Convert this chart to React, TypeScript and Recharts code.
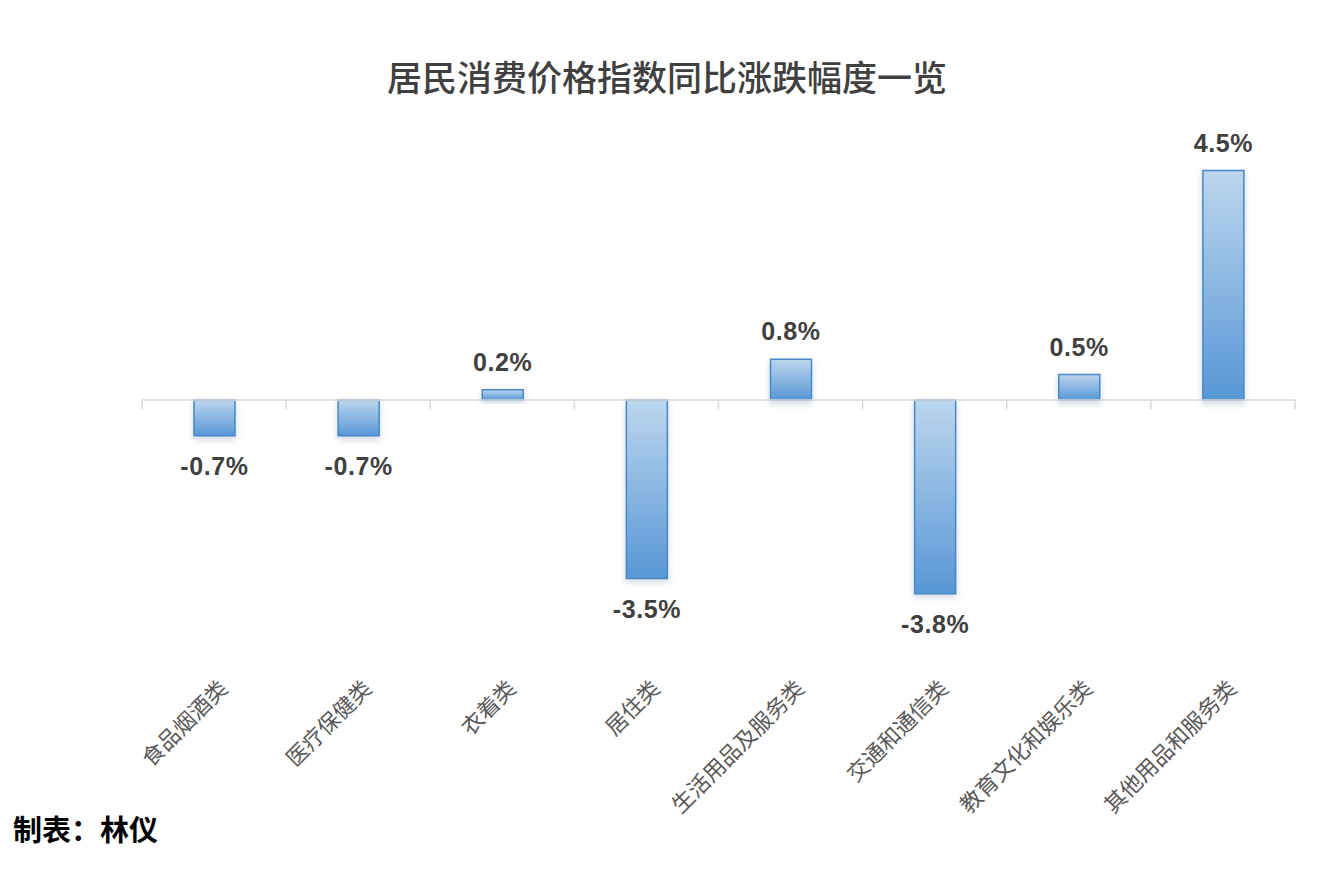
import { BarChart, Bar, XAxis, YAxis, ReferenceLine, LabelList } from 'recharts';

const categories = [
  '食品烟酒类',
  '医疗保健类',
  '衣着类',
  '居住类',
  '生活用品及服务类',
  '交通和通信类',
  '教育文化和娱乐类',
  '其他用品和服务类',
];

const changes = [-0.7, -0.7, 0.2, -3.5, 0.8, -3.8, 0.5, 4.5];

const yDomain = [-5, 5];

const data = categories.map((name, i) => ({ name, value: changes[i] }));

const WIDTH = 1334;
const HEIGHT = 872;
const XAXIS_H = 30;
const MARGIN = { top: 145, right: 39, bottom: 217 - XAXIS_H, left: 142 };
const PLOT_W = WIDTH - MARGIN.left - MARGIN.right;
const PLOT_H = HEIGHT - MARGIN.top - MARGIN.bottom - XAXIS_H;
const BAND = PLOT_W / categories.length;
const ZERO_Y = MARGIN.top + (PLOT_H * yDomain[1]) / (yDomain[1] - yDomain[0]);

const AXIS_COLOR = '#d9d9d9';

function CategoryTick(props: any) {
  const { x, index, payload } = props;
  const left = x - BAND / 2;
  const last = index === categories.length - 1;
  const ax = x + 15;
  const ay = 690;
  return (
    <g>
      <line x1={left} y1={ZERO_Y} x2={left} y2={ZERO_Y + 9} stroke={AXIS_COLOR} strokeWidth={1.5} />
      {last && (
        <line x1={x + BAND / 2} y1={ZERO_Y} x2={x + BAND / 2} y2={ZERO_Y + 9} stroke={AXIS_COLOR} strokeWidth={1.5} />
      )}
      <text
        x={ax}
        y={ay}
        transform={`rotate(-45, ${ax}, ${ay})`}
        textAnchor="end"
        fontSize={22}
        fill="#595959"
        fontFamily="'Noto Sans CJK SC', sans-serif"
      >
        {payload.value}
      </text>
    </g>
  );
}

function ValueLabel(props: any) {
  const { x, y, width, height, value } = props;
  const top = Math.min(y, y + height);
  const bottom = Math.max(y, y + height);
  const cx = x + width / 2;
  const ty = value >= 0 ? top - 19 : bottom + 39;
  return (
    <text
      x={cx}
      y={ty}
      textAnchor="middle"
      fontSize={25}
      fontWeight="bold"
      letterSpacing={0.6}
      fill="#404040"
      fontFamily="'Liberation Sans', Arial, sans-serif"
    >
      {`${Number(value).toFixed(1)}%`}
    </text>
  );
}

export default function App() {
  return (
    <div style={{ position: 'absolute', left: 0, top: 0, width: WIDTH, height: HEIGHT, background: '#fff' }}>
      <div
        style={{
          position: 'absolute',
          left: 0,
          top: 56,
          width: WIDTH,
          textAlign: 'center',
          fontFamily: "'Noto Sans CJK SC', sans-serif",
          fontSize: 35,
          lineHeight: '40px',
          fontWeight: 500,
          color: '#404040',
        }}
      >
        居民消费价格指数同比涨跌幅度一览
      </div>
      <div style={{ position: 'absolute', left: 0, top: 0 }}>
        <BarChart width={WIDTH} height={HEIGHT} data={data} margin={MARGIN}>
          <defs>
            <linearGradient id="barFill" x1="0" y1="0" x2="0" y2="1">
              <stop offset="0%" stopColor="#bcd6ee" />
              <stop offset="100%" stopColor="#5797d6" />
            </linearGradient>
            <filter id="barShadow" x="-30%" y="-30%" width="160%" height="160%">
              <feDropShadow dx="0" dy="3" stdDeviation="3" floodColor="#1f4e79" floodOpacity="0.22" />
            </filter>
          </defs>
          <YAxis hide domain={yDomain} type="number" allowDataOverflow />
          <XAxis
            dataKey="name"
            height={XAXIS_H}
            axisLine={false}
            tickLine={false}
            interval={0}
            tick={<CategoryTick />}
          />
          <ReferenceLine y={0} stroke={AXIS_COLOR} strokeWidth={1.5} />
          <Bar
            dataKey="value"
            barSize={41}
            fill="url(#barFill)"
            stroke="#4a87c8"
            strokeWidth={1.5}
            filter="url(#barShadow)"
            isAnimationActive={false}
          >
            <LabelList dataKey="value" content={<ValueLabel />} />
          </Bar>
        </BarChart>
      </div>
      <div
        style={{
          position: 'absolute',
          left: 13,
          top: 810,
          fontFamily: "'Noto Sans CJK SC', sans-serif",
          fontSize: 29,
          lineHeight: '36px',
          fontWeight: 700,
          color: '#000',
        }}
      >
        制表：林仪
      </div>
    </div>
  );
}
